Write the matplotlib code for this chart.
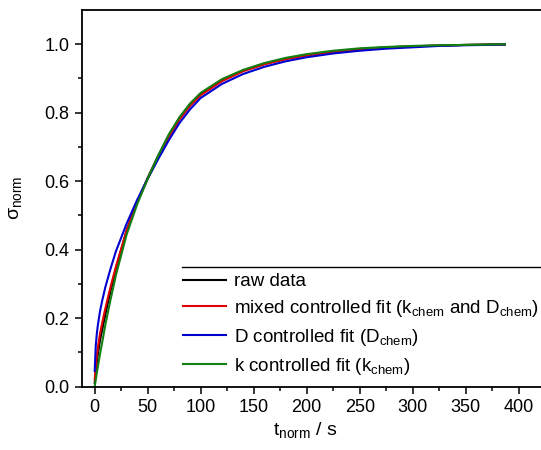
import matplotlib
matplotlib.use("Agg")
import matplotlib.pyplot as plt
from matplotlib.lines import Line2D

plt.rcParams['font.family'] = ['Liberation Sans', 'DejaVu Sans']
plt.rcParams['mathtext.fontset'] = 'custom'
plt.rcParams['mathtext.rm'] = 'Liberation Sans'
plt.rcParams['mathtext.it'] = 'Liberation Sans:italic'

# ---- data ----
t = [0, 1, 2, 3, 5, 7, 10, 15, 20, 30, 40, 50, 60, 70, 80, 90, 100, 120, 140, 160,
     180, 200, 225, 250, 275, 300, 325, 350, 387]
raw_data = [0.01, 0.04, 0.07, 0.095, 0.135, 0.165, 0.21, 0.28, 0.345, 0.455, 0.54,
            0.61, 0.675, 0.735, 0.785, 0.825, 0.855, 0.895, 0.923, 0.943, 0.958,
            0.969, 0.979, 0.986, 0.991, 0.994, 0.996, 0.998, 1.0]
mixed_fit = [0.02, 0.06, 0.09, 0.115, 0.155, 0.185, 0.228, 0.292, 0.35, 0.455, 0.537,
             0.607, 0.672, 0.73, 0.78, 0.82, 0.851, 0.892, 0.921, 0.941, 0.956, 0.967,
             0.978, 0.985, 0.99, 0.994, 0.996, 0.998, 0.999]
d_fit = [0.045, 0.12, 0.155, 0.18, 0.22, 0.25, 0.29, 0.345, 0.395, 0.475, 0.545,
         0.607, 0.665, 0.72, 0.77, 0.81, 0.843, 0.884, 0.913, 0.934, 0.95, 0.962,
         0.973, 0.981, 0.987, 0.991, 0.995, 0.997, 0.999]
k_fit = [0.0, 0.02, 0.04, 0.058, 0.095, 0.128, 0.18, 0.255, 0.325, 0.443, 0.532,
         0.607, 0.675, 0.737, 0.787, 0.827, 0.858, 0.898, 0.925, 0.945, 0.96, 0.971,
         0.981, 0.988, 0.992, 0.995, 0.997, 0.998, 1.0]

labels = ['raw data',
          r'mixed controlled fit (k$_\mathregular{chem}$ and D$_\mathregular{chem}$)',
          r'D controlled fit (D$_\mathregular{chem}$)',
          r'k controlled fit (k$_\mathregular{chem}$)']
colors = ['black', '#e00000', '#0000d0', '#118011']
xticks = [0, 50, 100, 150, 200, 250, 300, 350, 400]
yticks = [0.0, 0.2, 0.4, 0.6, 0.8, 1.0]

W, H = 541, 450
fig = plt.figure(figsize=(W / 100, H / 100), dpi=100)
left, right_px, top, bottom = 82, 82 + 468.5, 10, 386.5
ax = fig.add_axes([left / W, 1 - bottom / H, (right_px - left) / W, (bottom - top) / H])

series = [raw_data, mixed_fit, d_fit, k_fit]
for s, c, lab in zip(series, colors, labels):
    ax.plot(t, s, color=c, lw=1.5, label=lab)

ax.set_xlim(-12, 430)
ax.set_ylim(0, 1.1)
ax.set_xticks(xticks)
ax.set_yticks(yticks)
ax.set_yticklabels([f'{v:.1f}' for v in yticks])
ax.set_xticks([25 + 50 * i for i in range(9)], minor=True)
ax.set_yticks([0.1, 0.3, 0.5, 0.7, 0.9], minor=True)
ax.tick_params(which='major', direction='out', length=5, width=1.1, labelsize=13, pad=4)
ax.tick_params(which='minor', direction='out', length=3, width=1.1)
for sp in ['left', 'bottom', 'top']:
    ax.spines[sp].set_linewidth(1.3)
ax.spines['right'].set_visible(False)

ax.set_xlabel(r't$_\mathregular{norm}$ / s', fontsize=14)
ax.set_ylabel(r'σ$_\mathregular{norm}$', fontsize=14)
ax.xaxis.set_label_coords((305 - left) / (right_px - left), -0.09)
ax.yaxis.set_label_coords(-(left - 24) / (right_px - left), 0.5)

leg = ax.legend(loc='upper left', bbox_to_anchor=(183 / W, 1 - 273 / H),
                bbox_transform=fig.transFigure, frameon=False, fontsize=13.5,
                handlelength=2.3, handletextpad=0.42, borderpad=0, borderaxespad=0,
                labelspacing=0.42)
fig.add_artist(Line2D([182 / W, 1.0], [1 - 267 / H, 1 - 267 / H],
                      transform=fig.transFigure, color='black', lw=1.0))

fig.savefig('out.png', dpi=100)
